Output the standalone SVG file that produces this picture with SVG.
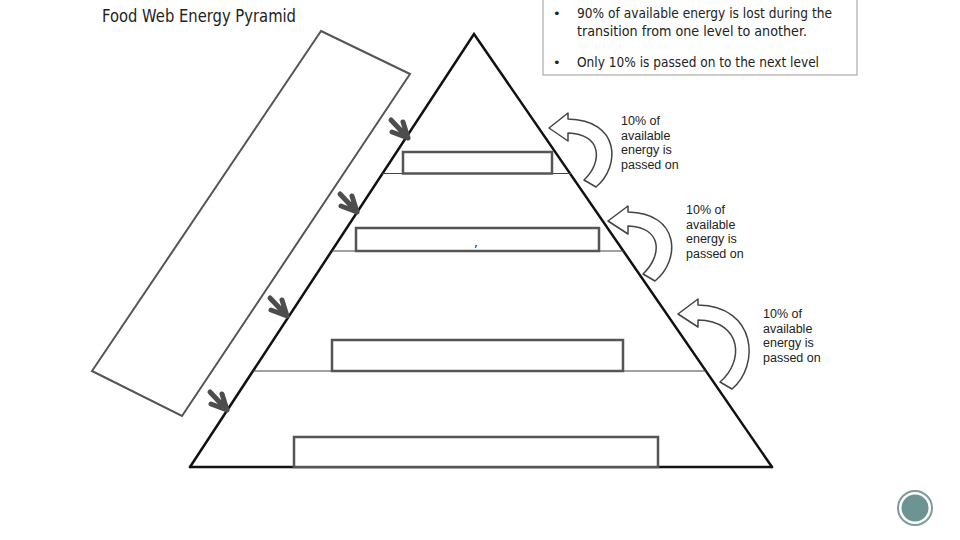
<svg xmlns="http://www.w3.org/2000/svg" width="960" height="540" viewBox="0 0 960 540">
<style>
.hand{font-family:"DejaVu Sans","Liberation Sans",sans-serif;fill:#222}
.lbl{font-family:"Liberation Sans","Open Sans",sans-serif;font-size:12.5px;fill:#222}
.edge{stroke:#111;stroke-width:2.5;fill:none;stroke-linecap:round}
.lvl{stroke:#444;stroke-width:1.2;fill:none}
.box{fill:#fff;stroke:#555;stroke-width:2.5}
.chev{fill:none;stroke:#4d4d4d;stroke-width:5;stroke-linecap:round;stroke-linejoin:round}
.curl{fill:#fff;stroke:#444;stroke-width:1.5;stroke-linejoin:round}
</style>
<defs>
<path id="chev" class="chev" d="M-17,-18 L0,0 M-5,-16 L0,0 L-16,-6"/>
</defs>
<rect width="960" height="540" fill="#fff"/>

<g id="title"><text class="hand" x="102" y="22" font-size="17" textLength="194" lengthAdjust="spacingAndGlyphs">Food Web  Energy Pyramid</text></g>

<g id="notes">
<rect x="543" y="-2" width="314" height="77" fill="#fff" stroke="#aaa" stroke-width="1.2"/>
<text class="hand" x="553" y="18" font-size="13">•</text>
<text class="hand" x="577" y="18" font-size="13.5" textLength="255" lengthAdjust="spacingAndGlyphs">90% of available energy is lost during the</text>
<text class="hand" x="577" y="36" font-size="13.5" textLength="230" lengthAdjust="spacingAndGlyphs">transition from one level to another.</text>
<text class="hand" x="553" y="67" font-size="13">•</text>
<text class="hand" x="577" y="67" font-size="13.5" textLength="242" lengthAdjust="spacingAndGlyphs">Only 10% is passed on to the next level</text>
</g>

<g id="side-panel">
<polygon points="321,31 410,74 182,416 92,371" fill="#fff" stroke="#555" stroke-width="2"/>
</g>

<g id="pyramid">
<polyline class="edge" points="190,467 474,34 772,467"/>
<line class="edge" x1="190" y1="467" x2="772" y2="467"/>
<line class="lvl" x1="382" y1="173.5" x2="571" y2="173.5"/>
<line class="lvl" x1="332" y1="251" x2="624" y2="251"/>
<line class="lvl" x1="253" y1="371" x2="706" y2="371"/>
</g>

<g id="level-1"><rect class="box" x="403" y="152" width="149" height="21.5"/></g>
<g id="level-2"><rect class="box" x="356" y="228" width="243" height="23"/><text class="hand" x="474" y="247" font-size="12">,</text></g>
<g id="level-3"><rect class="box" x="332" y="340" width="291" height="31"/></g>
<g id="level-4"><rect class="box" x="294" y="437" width="364" height="30"/></g>

<g id="connectors">
<use href="#chev" transform="translate(408,138)"/>
<use href="#chev" transform="translate(357,212)"/>
<use href="#chev" transform="translate(287,316)"/>
<use href="#chev" transform="translate(227,410)"/>
<path class="curl" d="M596,187 C621,166 620,120 568,119 L568,113 L549,128 L568,141 L568,133 C602,134 603,162 584,180 Z"/>
<path class="curl" d="M655,281 C681,260 680,213 628,212 L628,206 L608,221 L628,234 L628,226 C662,227 663,255 643,274 Z"/>
<path class="curl" d="M732,389 C760,366 757,306 698,305 L698,299 L678,314 L698,327 L698,320 C743,321 744,362 720,382 Z"/>
</g>

<g id="label-1">
<text class="lbl" x="621" y="125">10% of</text>
<text class="lbl" x="621" y="139.5">available</text>
<text class="lbl" x="621" y="154">energy is</text>
<text class="lbl" x="621" y="168.5">passed on</text>
</g>
<g id="label-2">
<text class="lbl" x="686" y="214">10% of</text>
<text class="lbl" x="686" y="228.5">available</text>
<text class="lbl" x="686" y="243">energy is</text>
<text class="lbl" x="686" y="257.5">passed on</text>
</g>
<g id="label-3">
<text class="lbl" x="763" y="318">10% of</text>
<text class="lbl" x="763" y="332.5">available</text>
<text class="lbl" x="763" y="347">energy is</text>
<text class="lbl" x="763" y="361.5">passed on</text>
</g>

<g id="page-badge">
<circle cx="915" cy="508" r="17" fill="#fff" stroke="#7d9c9c" stroke-width="2"/>
<circle cx="915" cy="508" r="13.5" fill="#6e9393"/>
</g>
</svg>
